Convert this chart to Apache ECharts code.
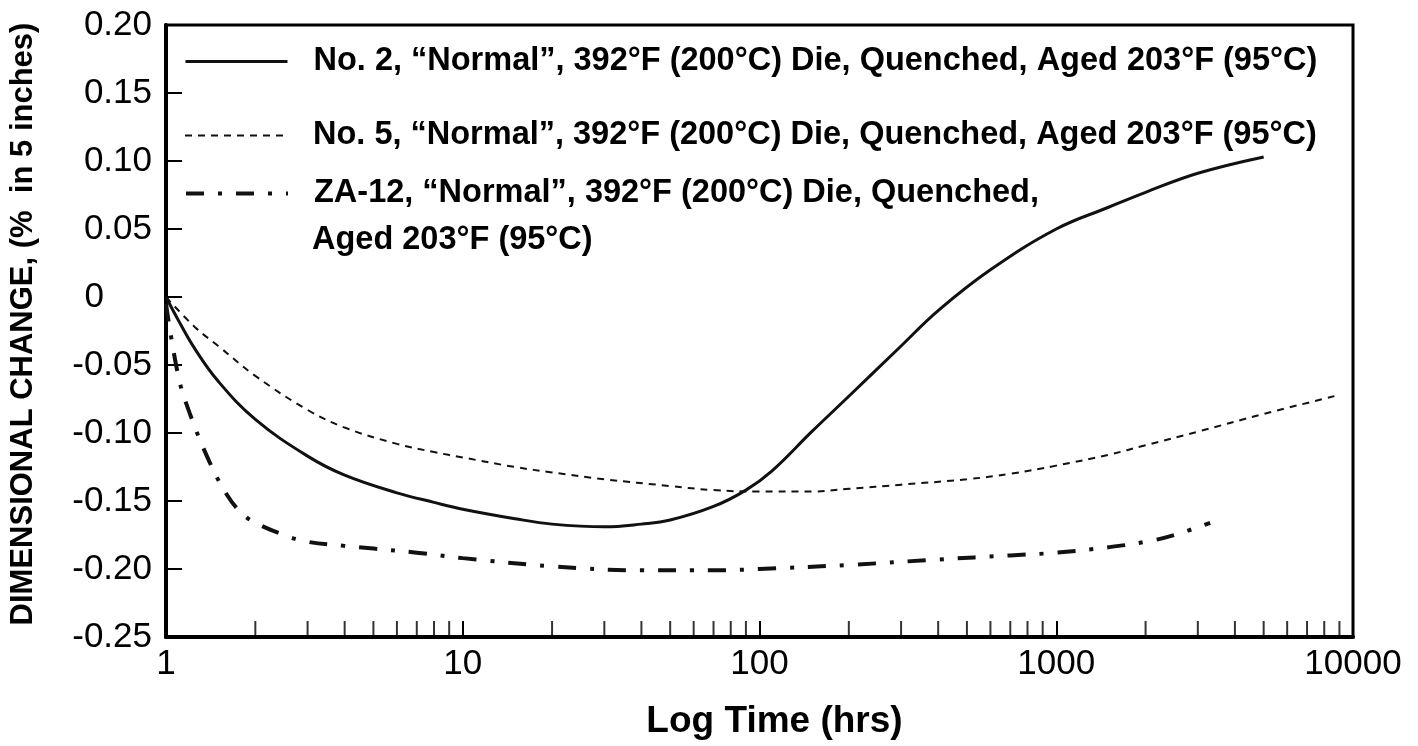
<!DOCTYPE html>
<html>
<head>
<meta charset="utf-8">
<script src="https://cdn.jsdelivr.net/npm/echarts@6/dist/echarts.min.js"></script>
<style>
  html, body { margin: 0; padding: 0; background: #fff; }
  #chart { width: 1418px; height: 746px; }
</style>
</head>
<body>
<div id="chart"></div>
<script>
// ---- Data ----
const seriesNames = [
  'No. 2, \u201cNormal\u201d, 392\u00b0F (200\u00b0C) Die, Quenched, Aged 203\u00b0F (95\u00b0C)',
  'No. 5, \u201cNormal\u201d, 392\u00b0F (200\u00b0C) Die, Quenched, Aged 203\u00b0F (95\u00b0C)',
  'ZA-12, \u201cNormal\u201d, 392\u00b0F (200\u00b0C) Die, Quenched,'
];
const za12SecondLine = 'Aged 203\u00b0F (95\u00b0C)';

// time (hrs) and dimensional change (%) for each alloy
const no2Time   = [1, 1.1, 1.25, 1.5, 2, 3, 4, 6, 8, 10, 15, 20, 30, 40, 50, 70, 90, 110, 150, 200, 300, 400, 600, 1000, 1500, 2000, 3000, 5000];
const no2Change = [0, -0.017, -0.038, -0.062, -0.090, -0.117, -0.131, -0.144, -0.151, -0.156, -0.163, -0.167, -0.169, -0.167, -0.164, -0.154, -0.142, -0.128, -0.099, -0.073, -0.036, -0.010, 0.020, 0.050, 0.066, 0.077, 0.091, 0.103];

const no5Time   = [1, 1.25, 1.5, 2, 3, 4, 6, 8, 10, 15, 20, 30, 50, 70, 100, 150, 200, 300, 500, 700, 1000, 1500, 2000, 3000, 5000, 9000];
const no5Change = [0, -0.022, -0.036, -0.058, -0.083, -0.096, -0.108, -0.114, -0.118, -0.125, -0.129, -0.134, -0.139, -0.142, -0.143, -0.143, -0.141, -0.138, -0.134, -0.130, -0.124, -0.116, -0.109, -0.099, -0.086, -0.072];

const za12Time   = [1, 1.1, 1.2, 1.4, 1.6, 1.8, 2, 2.5, 3, 4, 5, 7, 10, 20, 40, 70, 100, 200, 400, 700, 1000, 1500, 2000, 2500, 3300];
const za12Change = [-0.005, -0.058, -0.085, -0.121, -0.145, -0.159, -0.166, -0.175, -0.180, -0.183, -0.185, -0.188, -0.192, -0.198, -0.201, -0.201, -0.200, -0.197, -0.193, -0.190, -0.188, -0.184, -0.180, -0.175, -0.166];

// minor log ticks on the time axis
const minorTickTimes = [2,3,4,5,6,7,8,9, 20,30,40,50,60,70,80,90, 200,300,400,500,600,700,800,900, 2000,3000,4000,5000,6000,7000,8000,9000];

// axis ranges / labels
const yMin = -0.25, yMax = 0.20, yStep = 0.05;
const xMin = 1, xMax = 10000;
const xTitle = 'Log Time (hrs)';
const yTitle = 'DIMENSIONAL CHANGE, (%  in 5 inches)';

const zip = (a, b) => a.map((v, i) => [v, b[i]]);

const FONT = '"Liberation Sans", Arial, Helvetica, sans-serif';
const chart = echarts.init(document.getElementById('chart'), null, { renderer: 'canvas' });

const legendBase = {
  orient: 'horizontal', left: 184, padding: 0,
  itemWidth: 102, itemHeight: 14, selectedMode: false,
  itemStyle: { opacity: 0 },
  textStyle: { fontFamily: FONT, fontSize: 32.5, fontWeight: 'bold', color: '#000', padding: [0, 0, 0, 21] }
};

const option = {
  backgroundColor: '#fff',
  animation: false,
  textStyle: { fontFamily: FONT },
  grid: { left: 166, right: 65, top: 25, bottom: 109, show: true, borderColor: '#000', borderWidth: 3, backgroundColor: 'transparent' },
  title: {
    text: za12SecondLine, left: 312, top: 224, padding: 0,
    textStyle: { fontFamily: FONT, fontSize: 32.5, fontWeight: 'bold', color: '#000' }
  },
  legend: [
    Object.assign({}, legendBase, { top: 45, data: [seriesNames[0]], lineStyle: { width: 3 } }),
    Object.assign({}, legendBase, { top: 119, data: [seriesNames[1]], lineStyle: { width: 2 } }),
    Object.assign({}, legendBase, { top: 177, data: [seriesNames[2]], lineStyle: { width: 4 } })
  ],
  xAxis: {
    type: 'log', logBase: 10, min: xMin, max: xMax,
    name: xTitle, nameLocation: 'middle', nameGap: 66,
    nameTextStyle: { fontFamily: FONT, fontSize: 37, fontWeight: 'bold', color: '#000', padding: [0, 0, 0, 30] },
    axisLine: { show: true, onZero: false, lineStyle: { color: '#000', width: 4 } },
    axisTick: { show: true, inside: true, length: 16, lineStyle: { color: '#000', width: 2 } },
    axisLabel: {
      fontFamily: FONT, fontSize: 35, color: '#000', margin: 10,
      formatter: v => String(Math.round(v))
    },
    splitLine: { show: false },
    minorTick: { show: false }
  },
  yAxis: {
    type: 'value', min: yMin, max: yMax, interval: yStep,
    name: yTitle, nameLocation: 'middle', nameGap: 127,
    nameTextStyle: { fontFamily: FONT, fontSize: 31, fontWeight: 'bold', color: '#000', padding: [0, 0, 0, 14] },
    axisLine: { show: true, onZero: false, lineStyle: { color: '#000', width: 4 } },
    axisTick: { show: true, inside: true, length: 16, lineStyle: { color: '#000', width: 2 } },
    axisLabel: {
      fontFamily: FONT, fontSize: 35, color: '#000', margin: 14,
      formatter: v => (Math.abs(v) < 1e-9 ? '{z|0}' : v.toFixed(2)),
      rich: { z: { fontFamily: FONT, fontSize: 35, color: '#000', padding: [0, 48, 0, 0] } }
    },
    splitLine: { show: false }
  },
  series: [
    {
      name: seriesNames[0], type: 'line', data: zip(no2Time, no2Change),
      symbol: 'none', smooth: 0.4, clip: true,
      lineStyle: { color: '#111', width: 3, type: 'solid' },
      itemStyle: { color: '#111' }
    },
    {
      name: seriesNames[1], type: 'line', data: zip(no5Time, no5Change),
      symbol: 'none', smooth: 0.4, clip: true,
      lineStyle: { color: '#111', width: 2, type: [7, 6] },
      itemStyle: { color: '#111' }
    },
    {
      name: seriesNames[2], type: 'line', data: zip(za12Time, za12Change),
      symbol: 'none', smooth: 0.4, clip: true,
      lineStyle: { color: '#111', width: 4, type: [18, 14, 4, 14] },
      itemStyle: { color: '#111' }
    },
    {
      name: 'minor ticks', type: 'scatter',
      data: minorTickTimes.map(t => [t, yMin]),
      symbol: 'rect', symbolSize: [2, 16], symbolOffset: [0, -8],
      itemStyle: { color: '#000' }, silent: true, clip: false, z: 5
    }
  ]
};

chart.setOption(option);
</script>
</body>
</html>
